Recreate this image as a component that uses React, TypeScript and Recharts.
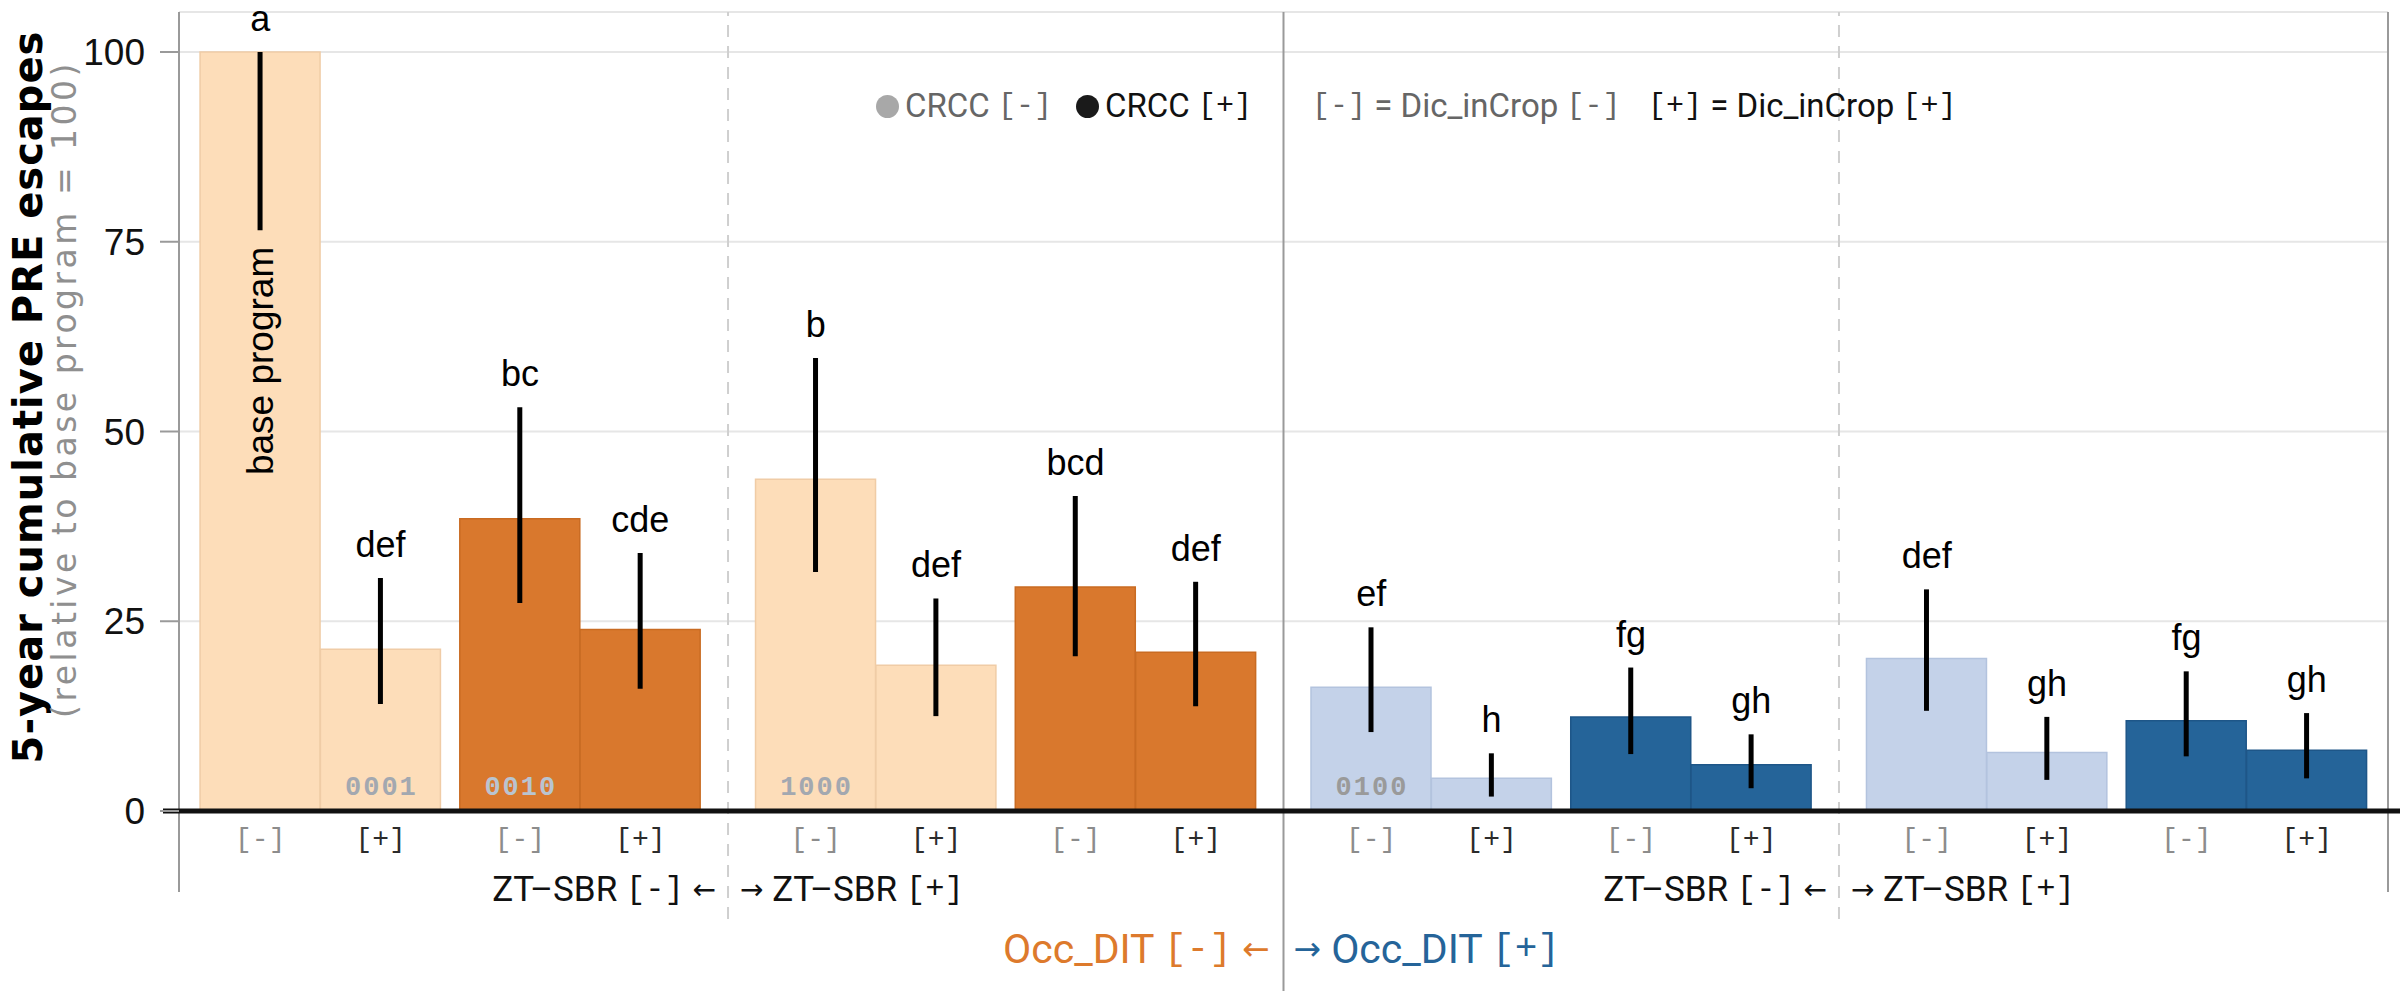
import React from 'react';
import {
  BarChart,
  Bar,
  XAxis,
  YAxis,
  CartesianGrid,
  Cell,
  ErrorBar,
  LabelList,
  ReferenceLine,
  ReferenceDot,
  Legend,
} from 'recharts';

// program code bits: ZT-SBR, Occ_DIT, CRCC, Dic_inCrop
const programs = [
  '0000', '0001', '0010', '0011', '1000', '1001', '1010', '1011',
  '0100', '0101', '0110', '0111', '1100', '1101', '1110', '1111',
];
const escapes = [100, 21.3, 38.5, 23.9, 43.7, 19.2, 29.5, 20.9, 16.3, 4.3, 12.4, 6.1, 20.1, 7.7, 11.9, 8.0];
const ciLow = [76.5, 14.1, 27.4, 16.1, 31.5, 12.5, 20.4, 13.8, 10.4, 1.9, 7.5, 3.0, 13.2, 4.1, 7.2, 4.3];
const ciHigh = [100, 30.7, 53.2, 34.0, 59.7, 28.0, 41.5, 30.2, 24.2, 7.6, 18.9, 10.1, 29.2, 12.4, 18.4, 12.9];
const letters = ['a', 'def', 'bc', 'cde', 'b', 'def', 'bcd', 'def', 'ef', 'h', 'fg', 'gh', 'def', 'gh', 'fg', 'gh'];
const singleFactorCodes = ['0001', '0010', '1000', '0100'];
const yTicks = [0, 25, 50, 75, 100];

const SANS = '"Liberation Sans", Arial, Helvetica, sans-serif';
const WIDE = '"DejaVu Sans", Verdana, sans-serif';
const ROBOTO = 'Roboto, "Liberation Sans", sans-serif';
const MONO = '"Liberation Mono", "DejaVu Sans Mono", monospace';

const LIGHT_ORANGE = '#FDDDB9';
const DARK_ORANGE = '#D9782D';
const LIGHT_BLUE = '#C4D2E9';
const DARK_BLUE = '#256499';
const ORANGE_TEXT = '#DD7A2C';
const BLUE_TEXT = '#256499';

const W = 2400;
const H = 991;
const MARGIN = { top: 12, right: 12, bottom: 120, left: 0 };
const Y_AXIS_W = 179;
const X_AXIS_H = 60;
const PLOT_W = W - MARGIN.left - MARGIN.right - Y_AXIS_W;
const PLOT_H = H - MARGIN.top - MARGIN.bottom - X_AXIS_H;
const Y_MAX = 105.27;
const PX_PER_Y = PLOT_H / Y_MAX;

// slot layout in bar widths: pairs of Dic_inCrop bars, wider gaps between ZT/Occ blocks
const EDGE = 0.175;
const PAIR_GAP = 0.158;
const BLOCK_GAP = 0.457;

const slots: number[] = [];
const dividers: number[] = [];
let cursor = EDGE;
programs.forEach((_, i) => {
  slots.push(cursor + 0.5);
  cursor += 1;
  if (i % 2 === 1 && i < programs.length - 1) {
    const pair = (i - 1) / 2;
    const gap = pair % 2 === 1 ? BLOCK_GAP : PAIR_GAP;
    if (pair % 2 === 1) dividers.push(cursor + gap / 2);
    cursor += gap;
  }
});
const X_MAX = cursor + EDGE;
const UNIT = PLOT_W / X_MAX;

// pixel offsets outside the plot converted to axis units
const yBelow = (px: number) => -px / PX_PER_Y;
const xLeft = (px: number) => -px / UNIT;

const fillFor = (code: string) => {
  const occ = code[1] === '1';
  const crcc = code[2] === '1';
  if (occ) return crcc ? DARK_BLUE : LIGHT_BLUE;
  return crcc ? DARK_ORANGE : LIGHT_ORANGE;
};
const strokeFor = (code: string) => {
  const f = fillFor(code);
  if (f === LIGHT_ORANGE) return '#F0CCA6';
  if (f === DARK_ORANGE) return '#C96B22';
  if (f === LIGHT_BLUE) return '#B3C3DE';
  return '#1E5688';
};
const codeInk = (code: string) => {
  const f = fillFor(code);
  if (f === DARK_ORANGE) return '#B9C4D0';
  if (f === LIGHT_BLUE) return '#9A9A9A';
  return '#A3A8B0';
};

const rows = programs.map((code, i) => ({
  code,
  slot: slots[i],
  escapes: escapes[i],
  err: [escapes[i] - ciLow[i], ciHigh[i] - escapes[i]],
  shown: singleFactorCodes.includes(code) ? code : '',
}));

const slotIndex = (v: number) => slots.findIndex((s) => Math.abs(s - v) < 1e-6);

const DicTick = (props: any) => {
  const { x, y, payload } = props;
  const i = slotIndex(payload.value);
  const plus = i >= 0 && programs[i][3] === '1';
  return (
    <text
      x={x}
      y={y}
      dy={28}
      textAnchor="middle"
      fontFamily={MONO}
      fontSize={28}
      fill={plus ? '#2b2b2b' : '#8c8c8c'}
    >
      {plus ? '[+]' : '[-]'}
    </text>
  );
};

const CodeLabel = (props: any) => {
  const { x, y, width, height, value, index } = props;
  if (!value) return null;
  return (
    <text
      x={x + width / 2 + 1}
      y={y + height - 16}
      textAnchor="middle"
      fontFamily={MONO}
      fontWeight="bold"
      fontSize={27}
      letterSpacing={2}
      fill={codeInk(programs[index])}
    >
      {value}
    </text>
  );
};

type Part = { t: string; mono?: boolean; arrow?: boolean };

const sideText = (parts: Part[], anchor: 'start' | 'end', dx: number, color: string, size: number) =>
  (props: any) => {
    const vb = props.viewBox || {};
    const x = (vb.x ?? 0) + (vb.width ?? 0) / 2;
    const y = (vb.y ?? 0) + (vb.height ?? 0) / 2;
    return (
      <text
        x={x + dx}
        y={y}
        textAnchor={anchor}
        dominantBaseline="central"
        fontFamily={ROBOTO}
        fontSize={size}
        fill={color}
      >
        {parts.map((p, k) => (
          <tspan
            key={k}
            fontFamily={p.mono ? MONO : p.arrow ? WIDE : ROBOTO}
            fontSize={p.mono ? size * 0.92 : p.arrow ? size * 0.8 : size}
          >
            {p.t}
          </tspan>
        ))}
      </text>
    );
  };

const LegendBox = () => {
  const dot = (c: string) => (
    <span
      style={{
        display: 'inline-block',
        width: 23,
        height: 23,
        borderRadius: 12,
        background: c,
        marginRight: 6,
      }}
    />
  );
  const mono = (t: string) => <span style={{ fontFamily: MONO, fontSize: 30 }}>{t}</span>;
  const item = (left: number, color: string, children: React.ReactNode) => (
    <div
      style={{
        position: 'absolute',
        left,
        top: 0,
        whiteSpace: 'nowrap',
        color,
        display: 'flex',
        alignItems: 'center',
        height: 44,
      }}
    >
      {children}
    </div>
  );
  return (
    <div style={{ position: 'relative', height: 44, fontFamily: ROBOTO, fontSize: 33, lineHeight: '44px' }}>
      {item(0, '#666', <>{dot('#A8A8A8')}CRCC&nbsp;{mono('[-]')}</>)}
      {item(200, '#111', <>{dot('#1A1A1A')}CRCC&nbsp;{mono('[+]')}</>)}
      {item(436, '#666', <>{mono('[-]')}&nbsp;=&nbsp;Dic_inCrop&nbsp;{mono('[-]')}</>)}
      {item(772, '#111', <>{mono('[+]')}&nbsp;=&nbsp;Dic_inCrop&nbsp;{mono('[+]')}</>)}
    </div>
  );
};

// rotated two-line y-axis title, placed in the axis gutter
const AxisTitle = () => (
  <g>
    <text
      transform="translate(28,397) rotate(-90)"
      textAnchor="middle"
      dominantBaseline="central"
      fontFamily={WIDE}
      fontWeight="bold"
      fontSize={40}
      letterSpacing={1}
      fill="#000"
    >
      5-year cumulative PRE escapes
    </text>
    <text
      transform="translate(64,389) rotate(-90)"
      textAnchor="middle"
      dominantBaseline="central"
      fontFamily={WIDE}
      fontSize={33}
      letterSpacing={3.5}
      fill="#8f8f8f"
    >
      (relative to base program = 100)
    </text>
  </g>
);

export default function App() {
  const [ztLeft, occMid, ztRight] = dividers;
  const groupY = yBelow(78);
  const occY = yBelow(138);

  return (
    <div style={{ width: W, height: H, background: '#fff' }}>
      <style>{'body{margin:0;}'}</style>
      <BarChart width={W} height={H} data={rows} margin={MARGIN} barCategoryGap={0} barGap={0}>
        <CartesianGrid horizontal vertical={false} stroke="#E6E6E6" strokeWidth={2} />
        <XAxis
          dataKey="slot"
          type="number"
          domain={[0, X_MAX]}
          ticks={slots}
          interval={0}
          height={X_AXIS_H}
          axisLine={false}
          tickLine={false}
          tick={<DicTick />}
          allowDataOverflow
        />
        <YAxis
          type="number"
          domain={[0, Y_MAX]}
          ticks={yTicks}
          width={Y_AXIS_W}
          axisLine={false}
          tickLine={{ stroke: '#9a9a9a', strokeWidth: 2 }}
          tickSize={19}
          tickMargin={15}
          tick={{ fontFamily: SANS, fontSize: 37, fill: '#111' }}
          allowDataOverflow
          label={{ content: <AxisTitle /> }}
        />

        {/* panel frame and group dividers */}
        <ReferenceLine
          segment={[{ x: 0, y: yBelow(81) }, { x: 0, y: Y_MAX }]}
          stroke="#9a9a9a"
          strokeWidth={2}
          ifOverflow="visible"
        />
        <ReferenceLine
          segment={[{ x: X_MAX, y: yBelow(81) }, { x: X_MAX, y: Y_MAX }]}
          stroke="#9a9a9a"
          strokeWidth={2}
          ifOverflow="visible"
        />
        <ReferenceLine
          segment={[{ x: occMid, y: yBelow(190) }, { x: occMid, y: Y_MAX }]}
          stroke="#9a9a9a"
          strokeWidth={2}
          ifOverflow="visible"
        />
        {[ztLeft, ztRight].map((d) => (
          <ReferenceLine
            key={d}
            segment={[{ x: d, y: yBelow(108) }, { x: d, y: Y_MAX }]}
            stroke="#CFCFCF"
            strokeWidth={2}
            strokeDasharray="12 9"
            ifOverflow="visible"
          />
        ))}

        <Bar dataKey="escapes" isAnimationActive={false}>
          {rows.map((r) => (
            <Cell key={r.code} fill={fillFor(r.code)} stroke={strokeFor(r.code)} strokeWidth={1.5} />
          ))}
          <ErrorBar dataKey="err" width={0} strokeWidth={5} stroke="#000" direction="y" />
          <LabelList dataKey="shown" content={<CodeLabel />} />
        </Bar>

        <ReferenceLine
          segment={[{ x: xLeft(16), y: 0 }, { x: X_MAX + 12 / UNIT, y: 0 }]}
          stroke="#111"
          strokeWidth={5}
          ifOverflow="visible"
        />

        {/* compact letter display above each interval */}
        {rows.map((r, i) => (
          <ReferenceDot
            key={`l-${r.code}`}
            x={r.slot}
            y={ciHigh[i]}
            r={0}
            fill="none"
            stroke="none"
            ifOverflow="visible"
            label={{
              value: letters[i],
              position: 'top',
              offset: 21,
              fontFamily: SANS,
              fontSize: 36,
              fill: '#000',
            }}
          />
        ))}

        <ReferenceDot
          x={slots[0]}
          y={59.3}
          r={0}
          fill="none"
          stroke="none"
          ifOverflow="visible"
          label={{
            content: (p: any) => {
              const vb = p.viewBox || {};
              const cx = (vb.x ?? 0) + (vb.width ?? 0) / 2;
              const cy = (vb.y ?? 0) + (vb.height ?? 0) / 2;
              return (
                <text
                  transform={`translate(${cx},${cy}) rotate(-90)`}
                  textAnchor="middle"
                  dominantBaseline="central"
                  fontFamily={SANS}
                  fontSize={37}
                  fill="#000"
                >
                  base program
                </text>
              );
            },
          }}
        />

        {/* factor annotations below the axis */}
        {[ztLeft, ztRight].map((d) => (
          <ReferenceDot
            key={`zt-l-${d}`}
            x={d}
            y={groupY}
            r={0}
            fill="none"
            stroke="none"
            ifOverflow="visible"
            label={{
              content: sideText(
                [{ t: 'ZT–SBR ' }, { t: '[-]', mono: true }, { t: ' ' }, { t: '←', arrow: true }],
                'end',
                -12,
                '#111',
                35,
              ),
            }}
          />
        ))}
        {[ztLeft, ztRight].map((d) => (
          <ReferenceDot
            key={`zt-r-${d}`}
            x={d}
            y={groupY}
            r={0}
            fill="none"
            stroke="none"
            ifOverflow="visible"
            label={{
              content: sideText(
                [{ t: '→', arrow: true }, { t: ' ZT–SBR ' }, { t: '[+]', mono: true }],
                'start',
                12,
                '#111',
                35,
              ),
            }}
          />
        ))}
        <ReferenceDot
          x={occMid}
          y={occY}
          r={0}
          fill="none"
          stroke="none"
          ifOverflow="visible"
          label={{
            content: sideText(
              [{ t: 'Occ_DIT ' }, { t: '[-]', mono: true }, { t: ' ' }, { t: '←', arrow: true }],
              'end',
              -14,
              ORANGE_TEXT,
              41,
            ),
          }}
        />
        <ReferenceDot
          x={occMid}
          y={occY}
          r={0}
          fill="none"
          stroke="none"
          ifOverflow="visible"
          label={{
            content: sideText(
              [{ t: '→', arrow: true }, { t: ' Occ_DIT ' }, { t: '[+]', mono: true }],
              'start',
              10,
              BLUE_TEXT,
              41,
            ),
          }}
        />

        <Legend
          layout="horizontal"
          verticalAlign="middle"
          align="center"
          content={<LegendBox />}
          wrapperStyle={{ left: 876, top: 84, width: 1120, height: 44 }}
        />
      </BarChart>
    </div>
  );
}
